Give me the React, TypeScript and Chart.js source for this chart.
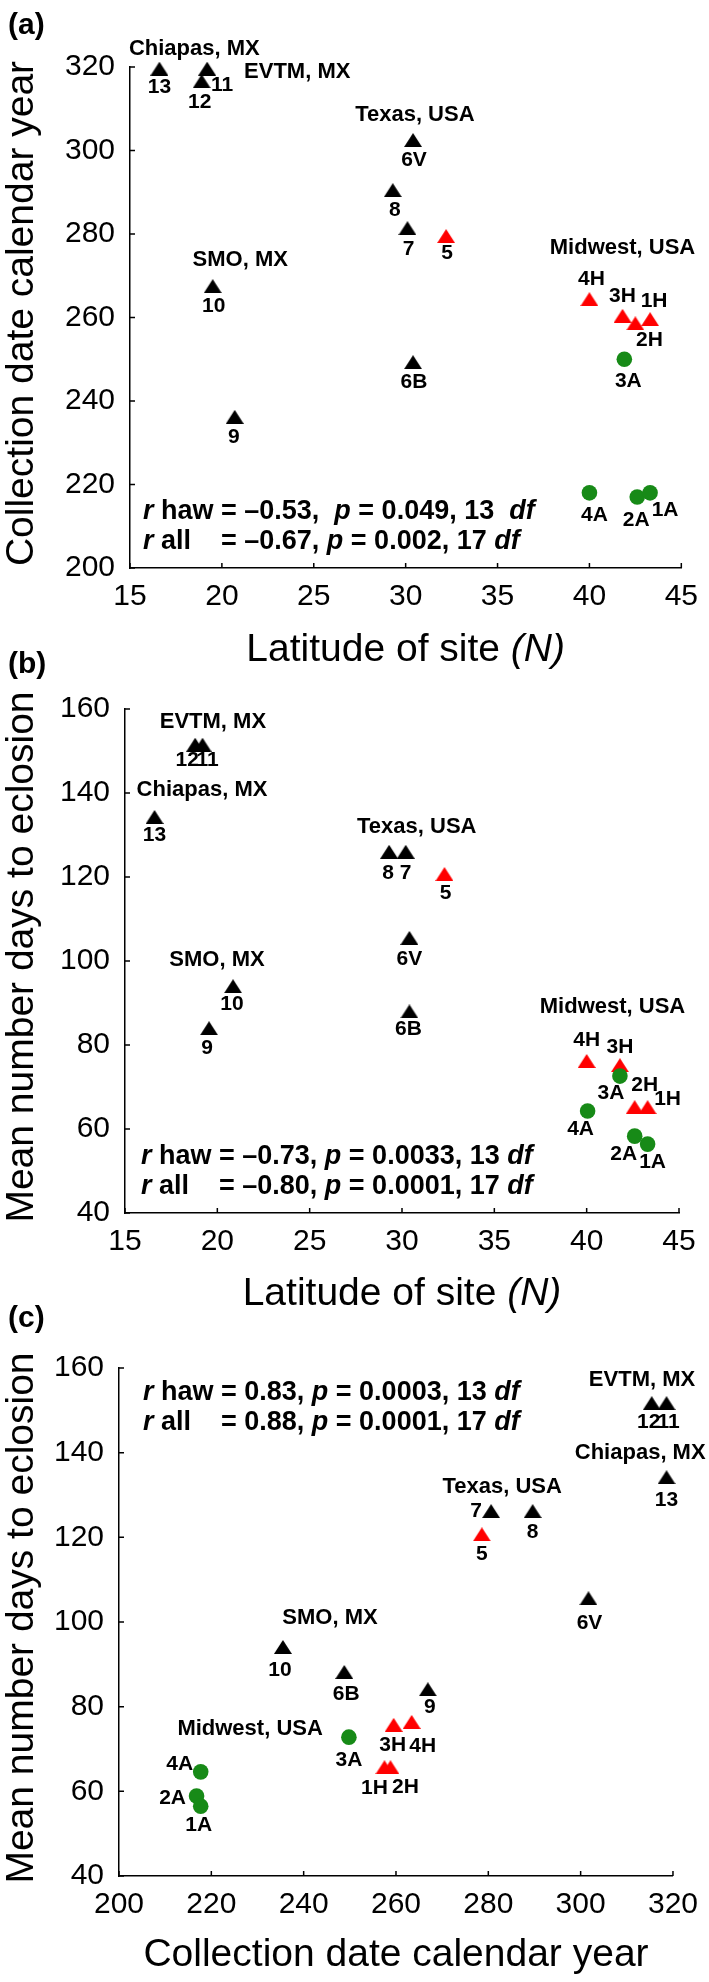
import React, { useEffect, useRef } from 'react';
import { Chart, registerables } from 'chart.js';
Chart.register(...registerables);

const FONT = "'Liberation Sans', Arial, Helvetica, sans-serif";
const BLACK = '#000000';
const RED = '#ff0000';
const GREEN = '#178a17';

const TICK_SIZE = 30;
const TITLE_SIZE = 39;
const LABEL_SIZE = 21;
const REGION_SIZE = 22;
const STATS_SIZE = 27;
const LETTER_SIZE = 30;

// ---------- site names ----------
const blackSites = ['13', '12', '11', '10', '9', '8', '7', '6V', '6B'];
const redSites = ['5', '4H', '3H', '2H', '1H'];
const greenSites = ['4A', '3A', '2A', '1A'];

// ---------- tick values ----------
const latTicks = [15, 20, 25, 30, 35, 40, 45];
const dateTicks = [200, 220, 240, 260, 280, 300, 320];
const daysTicks = [40, 60, 80, 100, 120, 140, 160];

// ---------- panel (a): latitude vs collection date ----------
const aBlackLat = [16.6, 18.9, 19.2, 19.5, 20.7, 29.3, 30.1, 30.4, 30.4];
const aBlackDate = [319.6, 316.6, 319.6, 267.5, 236.2, 290.5, 281.4, 302.5, 249.3];
const aRedLat = [32.2, 40.0, 41.8, 42.5, 43.3];
const aRedDate = [279.5, 264.4, 260.4, 258.6, 259.6];
const aGreenLat = [40.0, 41.9, 42.6, 43.3];
const aGreenDate = [218.0, 250.0, 217.0, 218.0];

// ---------- panel (b): latitude vs days to eclosion ----------
const bBlackLat = [16.6, 18.8, 19.2, 20.85, 19.55, 29.3, 30.2, 30.4, 30.4];
const bBlackDays = [134.3, 151.5, 151.5, 94.0, 84.0, 126.0, 126.0, 105.5, 88.0];
const bRedLat = [32.3, 40.0, 41.8, 42.6, 43.3];
const bRedDays = [120.7, 76.2, 75.2, 65.2, 65.2];
const bGreenLat = [40.05, 41.8, 42.6, 43.3];
const bGreenDays = [64.3, 72.6, 58.3, 56.4];

// ---------- panel (c): collection date vs days to eclosion ----------
const cBlackDate = [318.6, 315.4, 318.6, 235.5, 266.9, 289.6, 280.6, 301.7, 248.8];
const cBlackDays = [134.2, 151.7, 151.7, 94.1, 84.1, 126.2, 126.2, 105.6, 88.2];
const cRedDate = [278.6, 263.4, 259.5, 258.8, 257.5];
const cRedDays = [120.7, 76.4, 75.7, 65.7, 65.7];
const cGreenDate = [217.7, 249.8, 216.8, 217.7];
const cGreenDays = [64.6, 72.8, 58.9, 56.5];

// ---------- label offsets (pixels, same order as site arrays) ----------
const aBlackOff = [[0, 19], [-2, 21], [15, 17], [1, 20], [-1, 20], [2, 20], [1, 21], [1, 20], [1, 20]];
const aRedOff = [[1, 17], [2, -20], [0, -20], [14, 17], [4, -18]];
const aGreenOff = [[5, 22], [4, 22], [-1, 23], [15, 17]];

const bBlackOff = [[0, 18], [-8, 16], [5, 16], [-1, 18], [-2, 20], [-1, 21], [0, 21], [0, 21], [-1, 18]];
const bRedOff = [[1, 19], [0, -21], [0, -18], [10, -22], [20, -8]];
const bGreenOff = [[-7, 18], [-9, 17], [-11, 18], [5, 18]];

const cBlackOff = [[0, 23], [-3, 19], [2, 19], [-3, 23], [2, 18], [0, 21], [-15, 0], [1, 25], [2, 22]];
const cRedOff = [[0, 20], [11, 24], [-1, 20], [15, 20], [-10, 21]];
const cGreenOff = [[-21, -8], [0, 23], [-24, 2], [-2, 19]];

// ---------- region names ----------
const regionNames = ['Chiapas, MX', 'EVTM, MX', 'Texas, USA', 'SMO, MX', 'Midwest, USA'];
const aRegionX = [18.5, 24.1, 30.5, 21.0, 41.8];
const aRegionY = [324.3, 318.8, 308.5, 273.8, 276.6];
const bRegionX = [19.17, 19.76, 30.8, 19.98, 41.4];
const bRegionY = [140.7, 156.9, 131.9, 100.2, 89.0];
const cRegionX = [312.9, 313.3, 283.0, 245.7, 228.4];
const cRegionY = [139.9, 157.2, 131.9, 100.9, 74.7];

type Run = [string, boolean];

interface Group {
  sites: string[];
  xs: number[];
  ys: number[];
  offsets: number[][];
  color: string;
  style: string;
}

interface PanelDef {
  letter: string;
  top: number;
  height: number;
  plotLeft: number;
  plotRight: number;
  plotTop: number;
  plotBottom: number;
  xTicks: number[];
  yTicks: number[];
  xTitle: Run[];
  yTitle: string;
  titleCenterY: number;
  letterBaseline: number;
  groups: Group[];
  regionX: number[];
  regionY: number[];
  statsDx: number;
  statsFromTop: boolean;
  statsY1: number;
  statsY2: number;
  line1a: Run[];
  line1b: Run[];
  line2a: Run[];
  line2b: Run[];
}

const mkGroups = (
  gx: number[], gy: number[], goff: number[][],
  rx: number[], ry: number[], roff: number[][],
  bx: number[], by: number[], boff: number[][]
): Group[] => [
  { sites: greenSites, xs: gx, ys: gy, offsets: goff, color: GREEN, style: 'circle' },
  { sites: redSites, xs: rx, ys: ry, offsets: roff, color: RED, style: 'triangle' },
  { sites: blackSites, xs: bx, ys: by, offsets: boff, color: BLACK, style: 'triangle' },
];

const latTitle: Run[] = [['Latitude of site ', false], ['(N)', true]];

const panels: PanelDef[] = [
  {
    letter: 'a', top: 0, height: 690,
    plotLeft: 130, plotRight: 682, plotTop: 67, plotBottom: 568,
    xTicks: latTicks, yTicks: dateTicks,
    xTitle: latTitle, yTitle: 'Collection date calendar year',
    titleCenterY: 650, letterBaseline: 34,
    groups: mkGroups(aGreenLat, aGreenDate, aGreenOff, aRedLat, aRedDate, aRedOff, aBlackLat, aBlackDate, aBlackOff),
    regionX: aRegionX, regionY: aRegionY,
    statsDx: 13, statsFromTop: false, statsY1: -56, statsY2: -26,
    line1a: [['r', true], [' haw ', false]],
    line1b: [['= \u20130.53,  ', false], ['p', true], [' = 0.049, 13  ', false], ['df', true]],
    line2a: [['r', true], [' all', false]],
    line2b: [['= \u20130.67, ', false], ['p', true], [' = 0.002, 17 ', false], ['df', true]],
  },
  {
    letter: 'b', top: 640, height: 680,
    plotLeft: 125, plotRight: 679, plotTop: 69, plotBottom: 573,
    xTicks: latTicks, yTicks: daysTicks,
    xTitle: latTitle, yTitle: 'Mean number days to eclosion',
    titleCenterY: 654, letterBaseline: 33,
    groups: mkGroups(bGreenLat, bGreenDays, bGreenOff, bRedLat, bRedDays, bRedOff, bBlackLat, bBlackDays, bBlackOff),
    regionX: bRegionX, regionY: bRegionY,
    statsDx: 16, statsFromTop: false, statsY1: -56, statsY2: -26,
    line1a: [['r', true], [' haw ', false]],
    line1b: [['= \u20130.73, ', false], ['p', true], [' = 0.0033, 13 ', false], ['df', true]],
    line2a: [['r', true], [' all', false]],
    line2b: [['= \u20130.80, ', false], ['p', true], [' = 0.0001, 17 ', false], ['df', true]],
  },
  {
    letter: 'c', top: 1300, height: 682,
    plotLeft: 119, plotRight: 676, plotTop: 68, plotBottom: 576,
    xTicks: dateTicks, yTicks: daysTicks,
    xTitle: [['Collection date calendar year', false]], yTitle: 'Mean number days to eclosion',
    titleCenterY: 655, letterBaseline: 27,
    groups: mkGroups(cGreenDate, cGreenDays, cGreenOff, cRedDate, cRedDays, cRedOff, cBlackDate, cBlackDays, cBlackOff),
    regionX: cRegionX, regionY: cRegionY,
    statsDx: 24, statsFromTop: true, statsY1: 25, statsY2: 55,
    line1a: [['r', true], [' haw ', false]],
    line1b: [['= 0.83, ', false], ['p', true], [' = 0.0003, 13 ', false], ['df', true]],
    line2a: [['r', true], [' all', false]],
    line2b: [['= 0.88, ', false], ['p', true], [' = 0.0001, 17 ', false], ['df', true]],
  },
];

const TRI_W = 18;
const TRI_H = 14;
const CIRCLE_R = 7.8;

function triangleImage(color: string): HTMLCanvasElement {
  const c = document.createElement('canvas');
  c.width = TRI_W;
  c.height = TRI_H;
  const g = c.getContext('2d')!;
  g.fillStyle = color;
  g.beginPath();
  g.moveTo(TRI_W / 2, 0);
  g.lineTo(TRI_W, TRI_H);
  g.lineTo(0, TRI_H);
  g.closePath();
  g.fill();
  return c;
}

function setFont(ctx: CanvasRenderingContext2D, size: number, bold: boolean, italic: boolean) {
  ctx.font = `${italic ? 'italic ' : ''}${bold ? 'bold ' : ''}${size}px ${FONT}`;
}

function runsWidth(ctx: CanvasRenderingContext2D, runs: Run[], size: number, bold: boolean) {
  let w = 0;
  for (const [t, it] of runs) {
    setFont(ctx, size, bold, it);
    w += ctx.measureText(t).width;
  }
  return w;
}

function drawRuns(ctx: CanvasRenderingContext2D, runs: Run[], x: number, y: number, size: number, bold: boolean) {
  let cx = x;
  for (const [t, it] of runs) {
    setFont(ctx, size, bold, it);
    ctx.fillText(t, cx, y);
    cx += ctx.measureText(t).width;
  }
  return cx;
}

function makeOverlay(p: PanelDef) {
  return {
    id: 'overlay_' + p.letter,
    afterDatasetsDraw(chart: any) {
      const ctx: CanvasRenderingContext2D = chart.ctx;
      const { left, right, top, bottom } = chart.chartArea;
      const xs = chart.scales.x;
      const ys = chart.scales.y;
      ctx.save();
      // inward tick marks
      ctx.strokeStyle = '#000';
      ctx.lineWidth = 1.5;
      ctx.beginPath();
      p.xTicks.forEach((v) => {
        const px = xs.getPixelForValue(v);
        ctx.moveTo(px, bottom);
        ctx.lineTo(px, bottom - 5);
      });
      p.yTicks.forEach((v) => {
        const py = ys.getPixelForValue(v);
        ctx.moveTo(left, py);
        ctx.lineTo(left + 5, py);
      });
      ctx.stroke();

      ctx.fillStyle = '#000';
      ctx.textAlign = 'center';
      ctx.textBaseline = 'middle';
      // point labels
      setFont(ctx, LABEL_SIZE, true, false);
      p.groups.forEach((g, gi) => {
        const meta = chart.getDatasetMeta(gi);
        meta.data.forEach((el: any, i: number) => {
          const off = g.offsets[i];
          ctx.fillText(g.sites[i], el.x + off[0], el.y + off[1]);
        });
      });
      // region labels
      setFont(ctx, REGION_SIZE, true, false);
      regionNames.forEach((name, i) => {
        ctx.fillText(name, xs.getPixelForValue(p.regionX[i]), ys.getPixelForValue(p.regionY[i]));
      });
      // statistics
      ctx.textAlign = 'left';
      const x0 = left + p.statsDx;
      const y1 = p.statsFromTop ? top + p.statsY1 : bottom + p.statsY1;
      const y2 = p.statsFromTop ? top + p.statsY2 : bottom + p.statsY2;
      const eqX = x0 + runsWidth(ctx, p.line1a, STATS_SIZE, true);
      drawRuns(ctx, p.line1a, x0, y1, STATS_SIZE, true);
      drawRuns(ctx, p.line1b, eqX, y1, STATS_SIZE, true);
      drawRuns(ctx, p.line2a, x0, y2, STATS_SIZE, true);
      drawRuns(ctx, p.line2b, eqX, y2, STATS_SIZE, true);
      // x title
      const tw = runsWidth(ctx, p.xTitle, TITLE_SIZE, false);
      drawRuns(ctx, p.xTitle, (left + right) / 2 - tw / 2, p.titleCenterY, TITLE_SIZE, false);
      // y title
      ctx.save();
      ctx.translate(22, (top + bottom) / 2 - 4);
      ctx.rotate(-Math.PI / 2);
      ctx.textAlign = 'center';
      setFont(ctx, TITLE_SIZE, false, false);
      ctx.fillText(p.yTitle, 0, 0);
      ctx.restore();
      // panel letter
      ctx.textAlign = 'left';
      ctx.textBaseline = 'alphabetic';
      setFont(ctx, LETTER_SIZE, true, false);
      ctx.fillText(`(${p.letter})`, 8, p.letterBaseline);
      ctx.restore();
    },
  };
}

function Panel({ p }: { p: PanelDef }) {
  const ref = useRef<HTMLCanvasElement>(null);
  useEffect(() => {
    if (!ref.current) return;
    const xTicks = p.xTicks;
    const yTicks = p.yTicks;
    const chart = new Chart(ref.current, {
      type: 'scatter',
      data: {
        datasets: p.groups.map((g) => ({
          label: g.style,
          data: g.xs.map((x, i) => ({ x, y: g.ys[i] })),
          pointStyle: (g.style === 'triangle' ? triangleImage(g.color) : 'circle') as any,
          pointRadius: g.style === 'triangle' ? TRI_W / 2 : CIRCLE_R,
          pointHoverRadius: g.style === 'triangle' ? TRI_W / 2 : CIRCLE_R,
          backgroundColor: g.color,
          borderColor: g.color,
          borderWidth: 0,
          clip: false as any,
        })),
      },
      options: {
        responsive: false,
        animation: false,
        devicePixelRatio: 1,
        layout: { padding: { left: 0, top: p.plotTop, right: 709 - p.plotRight, bottom: 0 } },
        plugins: { legend: { display: false }, tooltip: { enabled: false } },
        events: [],
        scales: {
          x: {
            type: 'linear',
            min: xTicks[0],
            max: xTicks[xTicks.length - 1],
            afterBuildTicks: (s: any) => { s.ticks = xTicks.map((v) => ({ value: v })); },
            afterFit: (s: any) => { s.height = p.height - p.plotBottom; },
            ticks: { color: '#000', font: { family: FONT, size: TICK_SIZE }, padding: 11, maxRotation: 0, autoSkip: false },
            grid: { display: false, drawTicks: false },
            border: { display: true, color: '#000', width: 1.5 },
          },
          y: {
            type: 'linear',
            min: yTicks[0],
            max: yTicks[yTicks.length - 1],
            afterBuildTicks: (s: any) => { s.ticks = yTicks.map((v) => ({ value: v })); },
            afterFit: (s: any) => { s.width = p.plotLeft; },
            ticks: { color: '#000', font: { family: FONT, size: TICK_SIZE }, padding: 15, autoSkip: false },
            grid: { display: false, drawTicks: false },
            border: { display: true, color: '#000', width: 1.5 },
          },
        },
      } as any,
      plugins: [makeOverlay(p)],
    });
    return () => chart.destroy();
  }, [p]);
  return (
    <canvas
      ref={ref}
      width={709}
      height={p.height}
      style={{ position: 'absolute', left: 0, top: p.top, width: 709, height: p.height }}
    />
  );
}

export default function App() {
  return (
    <div style={{ position: 'absolute', left: 0, top: 0, width: 709, height: 1982, background: '#ffffff', overflow: 'hidden' }}>
      {panels.map((p) => (
        <Panel key={p.letter} p={p} />
      ))}
    </div>
  );
}
